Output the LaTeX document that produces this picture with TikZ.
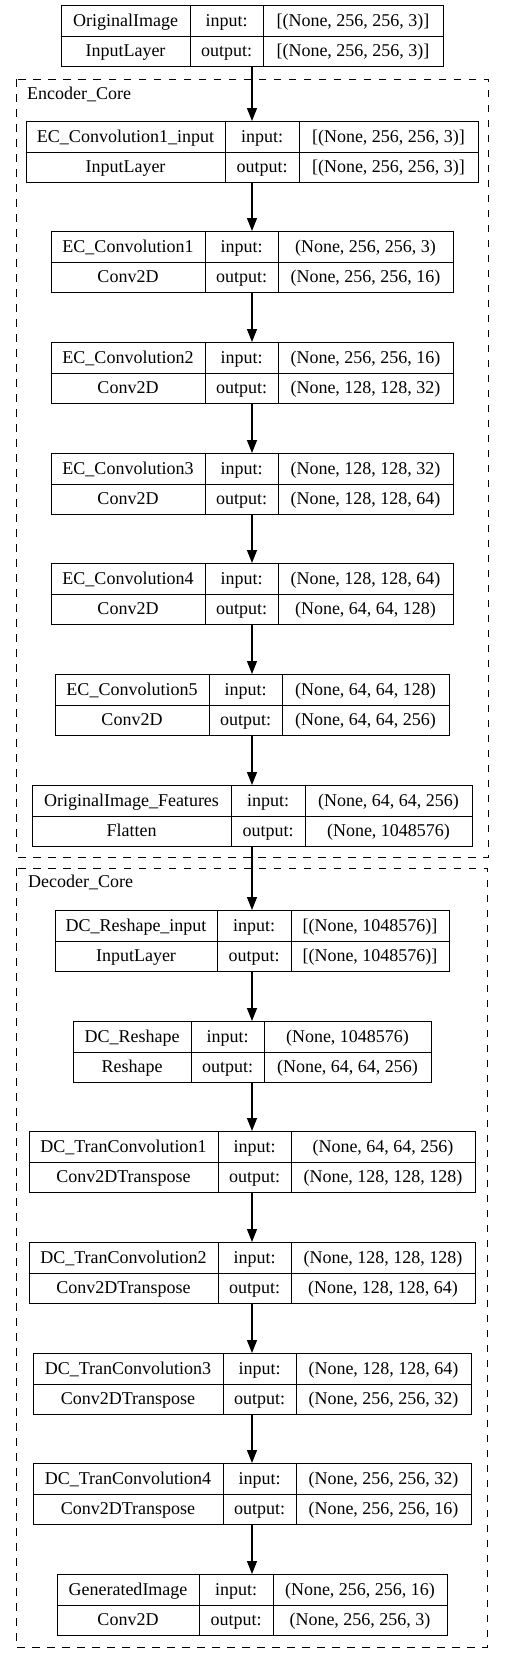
\documentclass[tikz,border=0pt]{standalone}
\usepackage{fontspec}
\setmainfont{Liberation Serif}
\usetikzlibrary{arrows.meta}

\tikzset{
    rec/.style={draw, line width=1pt, inner sep=0pt, minimum height=61pt},
    recline/.style={line width=1pt},
    cell/.style={inner sep=0pt, text height=11.9pt, text depth=0pt,
        font=\fontsize{18}{21}\selectfont},
    cluster/.style={line width=1pt, dash pattern=on 7.5pt off 7.5pt},
    arr/.style={line width=1.2pt, -{Triangle[length=13pt,width=10pt]}},
}

% #1 name, #2 top, #3 left, #4 first divider, #5 second divider,
% #6 layer, #7 type, #8 input shape, #9 output shape
\newcommand{\layerrec}[9]{%
    \node[rec, minimum width={504pt-2*#3pt}, anchor=north] (#1) at (252,#2) {};
    \draw[recline] (#1.west) -- (#1.east)
        (#4,#2) -- ++(0,61) (#5,#2) -- ++(0,61);
    \node[cell] at ({(#3+#4)/2},#2+15.25) {#6};
    \node[cell] at ({(#3+#4)/2},#2+45.75) {#7};
    \node[cell] at ({(#4+#5)/2},#2+15.25) {input:};
    \node[cell] at ({(#4+#5)/2},#2+45.75) {output:};
    \node[cell] at ({(#5+504-#3)/2},#2+15.25) {#8};
    \node[cell] at ({(#5+504-#3)/2},#2+45.75) {#9};
}

\begin{document}
\begin{tikzpicture}[x=1pt, y=-1pt]
\path[fill=white, use as bounding box] (0,0) rectangle (504,1663);

% clusters
\draw[cluster] (16,79) rectangle (488,857);
\node[cell, anchor=west] (enclabel) at (27,94) {Encoder\_Core};
\draw[cluster] (16,868) rectangle (487,1647);
\node[cell, anchor=west] (declabel) at (28,882) {Decoder\_Core};

% layers
\layerrec{oi}{5}{61}{190}{263}{OriginalImage}{InputLayer}{[(None, 256, 256, 3)]}{[(None, 256, 256, 3)]}
\layerrec{ecin}{121}{26}{225}{299}{EC\_Convolution1\_input}{InputLayer}{[(None, 256, 256, 3)]}{[(None, 256, 256, 3)]}
\layerrec{ec1}{231}{51}{205}{278}{EC\_Convolution1}{Conv2D}{(None, 256, 256, 3)}{(None, 256, 256, 16)}
\layerrec{ec2}{342}{51}{205}{278}{EC\_Convolution2}{Conv2D}{(None, 256, 256, 16)}{(None, 128, 128, 32)}
\layerrec{ec3}{453}{51}{205}{278}{EC\_Convolution3}{Conv2D}{(None, 128, 128, 32)}{(None, 128, 128, 64)}
\layerrec{ec4}{563}{51}{205}{278}{EC\_Convolution4}{Conv2D}{(None, 128, 128, 64)}{(None, 64, 64, 128)}
\layerrec{ec5}{674}{55}{209}{282}{EC\_Convolution5}{Conv2D}{(None, 64, 64, 128)}{(None, 64, 64, 256)}
\layerrec{oif}{785}{32}{231}{305}{OriginalImage\_Features}{Flatten}{(None, 64, 64, 256)}{(None, 1048576)}
\layerrec{dcin}{910}{55}{217}{291}{DC\_Reshape\_input}{InputLayer}{[(None, 1048576)]}{[(None, 1048576)]}
\layerrec{dcre}{1021}{73}{191}{264}{DC\_Reshape}{Reshape}{(None, 1048576)}{(None, 64, 64, 256)}
\layerrec{tc1}{1131}{29}{218}{291}{DC\_TranConvolution1}{Conv2DTranspose}{(None, 64, 64, 256)}{(None, 128, 128, 128)}
\layerrec{tc2}{1242}{29}{218}{291}{DC\_TranConvolution2}{Conv2DTranspose}{(None, 128, 128, 128)}{(None, 128, 128, 64)}
\layerrec{tc3}{1353}{33}{223}{296}{DC\_TranConvolution3}{Conv2DTranspose}{(None, 128, 128, 64)}{(None, 256, 256, 32)}
\layerrec{tc4}{1463}{33}{223}{296}{DC\_TranConvolution4}{Conv2DTranspose}{(None, 256, 256, 32)}{(None, 256, 256, 16)}
\layerrec{gen}{1574}{57}{199}{273}{GeneratedImage}{Conv2D}{(None, 256, 256, 16)}{(None, 256, 256, 3)}

% flow
\draw[arr] (oi) -- (ecin);
\draw[arr] (ecin) -- (ec1);
\draw[arr] (ec1) -- (ec2);
\draw[arr] (ec2) -- (ec3);
\draw[arr] (ec3) -- (ec4);
\draw[arr] (ec4) -- (ec5);
\draw[arr] (ec5) -- (oif);
\draw[arr] (oif) -- (dcin);
\draw[arr] (dcin) -- (dcre);
\draw[arr] (dcre) -- (tc1);
\draw[arr] (tc1) -- (tc2);
\draw[arr] (tc2) -- (tc3);
\draw[arr] (tc3) -- (tc4);
\draw[arr] (tc4) -- (gen);

\end{tikzpicture}
\end{document}
